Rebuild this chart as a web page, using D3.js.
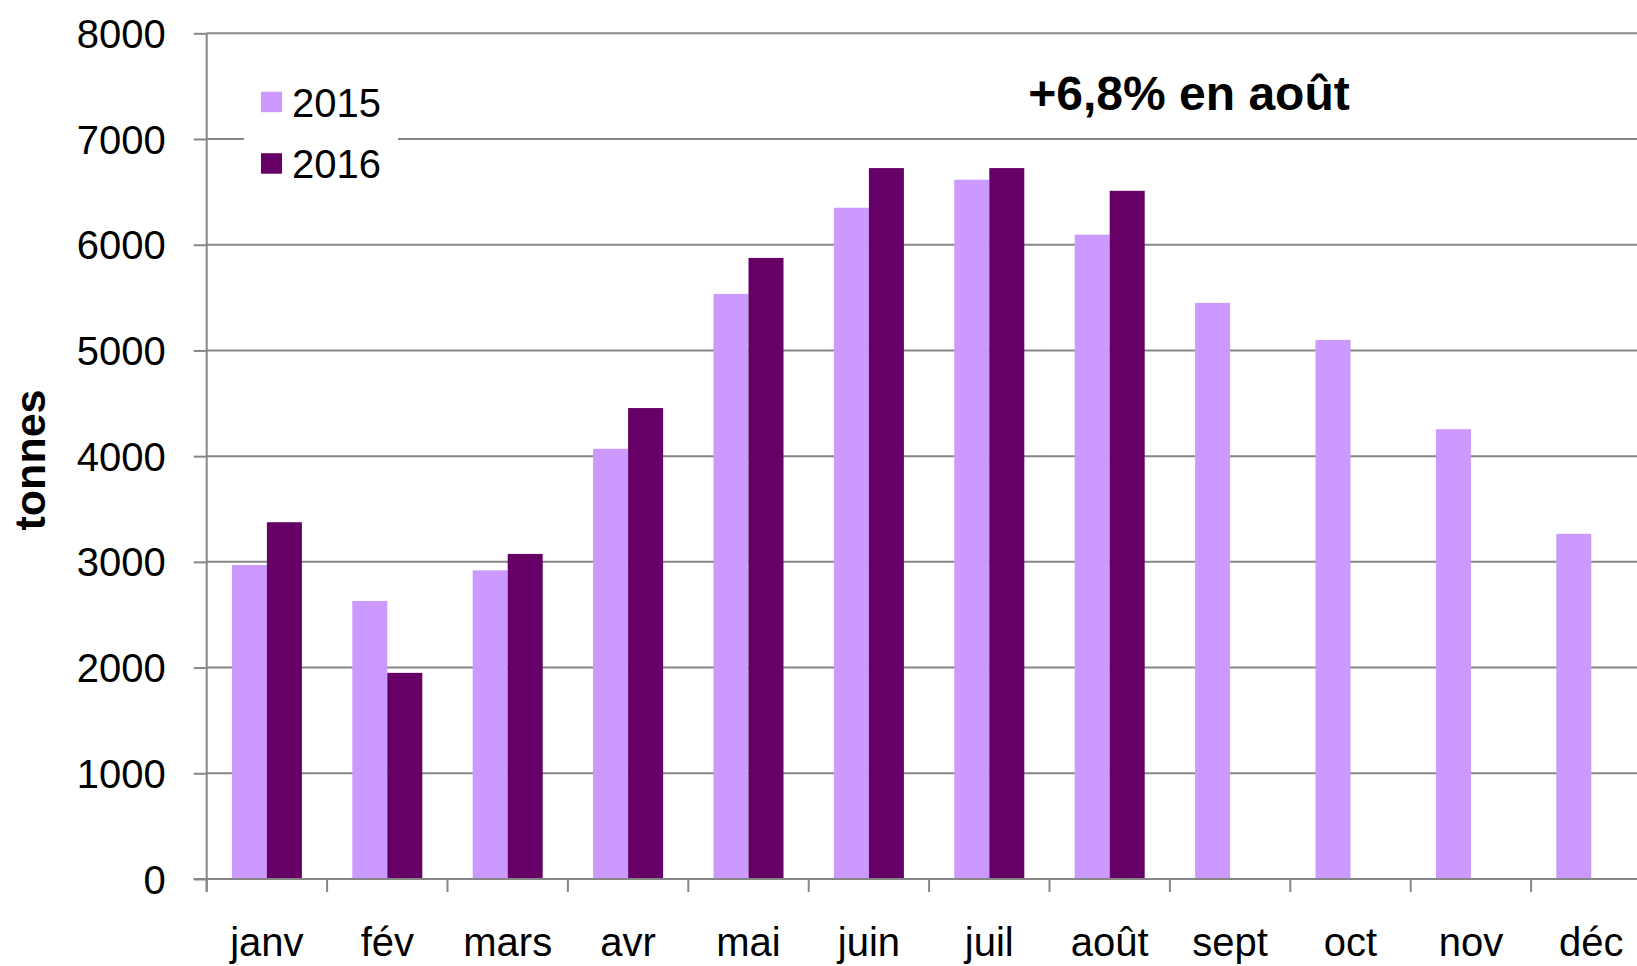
<!DOCTYPE html>
<html>
<head>
<meta charset="utf-8">
<script src="https://cdn.jsdelivr.net/npm/d3@7"></script>
<style>
  html, body { margin: 0; padding: 0; background: #fff; }
  svg { display: block; font-family: "Liberation Sans", Arial, sans-serif; }
</style>
</head>
<body>
<div id="chart"></div>
<script>
// data
const months = ['janv', 'fév', 'mars', 'avr', 'mai', 'juin', 'juil', 'août', 'sept', 'oct', 'nov', 'déc'];
const series = ['2015', '2016'];
const values2015 = [2970, 2630, 2920, 4070, 5535, 6350, 6615, 6095, 5450, 5100, 4255, 3265];
const values2016 = [3375, 1950, 3075, 4455, 5875, 6725, 6725, 6510, null, null, null, null];
const yTicks = [0, 1000, 2000, 3000, 4000, 5000, 6000, 7000, 8000];
const colors = { '2015': '#cc99ff', '2016': '#660066' };

(function() {
  'use strict';

  const width = 1637;
  const height = 966;
  const left = 206.7;
  const bottom = 879;
  const top = 33.3;
  const gridColor = '#868686';

  const svg = d3.select('#chart')
    .append('svg')
    .attr('width', width)
    .attr('height', height);

  const x = d3.scaleBand()
    .domain(months)
    .range([left, left + 12 * 120.4])
    .padding(0);

  const xs = d3.scaleBand()
    .domain(series)
    .range([0, x.bandwidth()])
    .paddingInner(0)
    .paddingOuter(0.72);

  const y = d3.scaleLinear()
    .domain([0, 8000])
    .range([bottom, top]);

  // gridlines
  svg.append('g')
    .selectAll('line')
    .data(yTicks)
    .join('line')
    .attr('x1', left)
    .attr('x2', width)
    .attr('y1', d => y(d))
    .attr('y2', d => y(d))
    .attr('stroke', gridColor)
    .attr('stroke-width', 2);

  // bars
  const rows = months.map((m, i) => ({ month: m, '2015': values2015[i], '2016': values2016[i] }));

  svg.append('g')
    .selectAll('g')
    .data(rows)
    .join('g')
    .attr('transform', d => `translate(${x(d.month)},0)`)
    .selectAll('rect')
    .data(d => series.map(s => ({ key: s, value: d[s] })).filter(v => v.value != null))
    .join('rect')
    .attr('x', d => xs(d.key))
    .attr('width', xs.bandwidth())
    .attr('y', d => y(d.value))
    .attr('height', d => y(0) - y(d.value))
    .attr('fill', d => colors[d.key]);

  // y axis
  const yAxis = svg.append('g')
    .attr('transform', `translate(${left},0)`)
    .call(d3.axisLeft(y).tickValues(yTicks).tickSize(13).tickPadding(28).tickFormat(d3.format('d')));
  yAxis.select('.domain').attr('stroke', gridColor).attr('stroke-width', 2)
    .attr('d', `M0,${top}V${bottom + 13}`);
  yAxis.selectAll('.tick line').attr('stroke', gridColor).attr('stroke-width', 2);
  yAxis.selectAll('.tick text').attr('font-size', 40).attr('fill', '#000').attr('dy', '0.35em');

  // x axis: labels centered, tick marks at band edges
  const xAxis = svg.append('g')
    .attr('transform', `translate(0,${bottom})`)
    .call(d3.axisBottom(x).tickSize(0).tickPadding(0));
  xAxis.select('.domain').attr('stroke', gridColor).attr('stroke-width', 2)
    .attr('d', `M${left - 13},0H${width}`);
  xAxis.selectAll('.tick text').attr('font-size', 40).attr('fill', '#000')
    .attr('y', 77).attr('dy', 0);

  svg.append('g')
    .selectAll('line')
    .data(months)
    .join('line')
    .attr('x1', d => x(d))
    .attr('x2', d => x(d))
    .attr('y1', bottom)
    .attr('y2', bottom + 13)
    .attr('stroke', gridColor)
    .attr('stroke-width', 2);

  // axis title
  svg.append('text')
    .attr('transform', 'translate(45,460) rotate(-90)')
    .attr('text-anchor', 'middle')
    .attr('font-size', 43)
    .attr('font-weight', 'bold')
    .text('tonnes');

  // legend
  const legend = svg.append('g');
  legend.append('rect')
    .attr('x', 244).attr('y', 70).attr('width', 154).attr('height', 125)
    .attr('fill', '#fff');
  series.forEach((s, i) => {
    const ly = 91.7 + i * 61.5;
    legend.append('rect')
      .attr('x', 261).attr('y', ly).attr('width', 21).attr('height', 20.5)
      .attr('fill', colors[s]);
    legend.append('text')
      .attr('x', 292).attr('y', ly + 25)
      .attr('font-size', 40)
      .text(s);
  });

  // annotation
  svg.append('text')
    .attr('x', 1189).attr('y', 110)
    .attr('text-anchor', 'middle')
    .attr('font-size', 48)
    .attr('font-weight', 'bold')
    .text('+6,8% en août');
})();
</script>
</body>
</html>
